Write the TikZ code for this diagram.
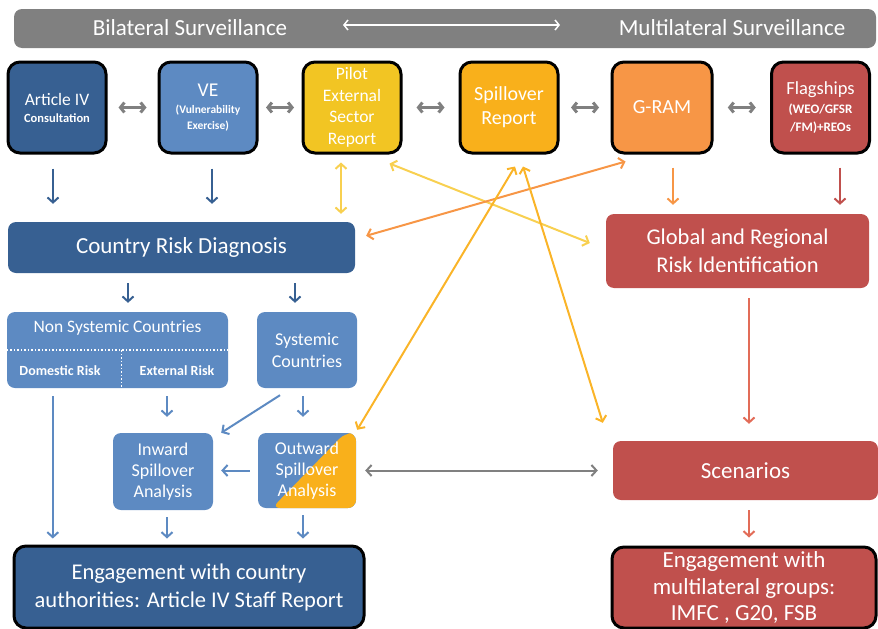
\documentclass[tikz,border=0pt]{standalone}
\usepackage{fontspec}
\setmainfont{Carlito}
\usepackage{tikz}
\usetikzlibrary{
    arrows.meta,
    positioning,
    calc
}

\definecolor{darkblue}{RGB}{55,96,146}
\definecolor{midblue}{RGB}{93,138,194}
\definecolor{pilotyellow}{RGB}{242,197,35}
\definecolor{spillamber}{RGB}{249,176,27}
\definecolor{gramorange}{RGB}{247,150,70}
\definecolor{flagred}{RGB}{192,80,77}
\definecolor{bargray}{RGB}{128,128,128}
\definecolor{lightyellow}{RGB}{248,208,80}
\definecolor{amberline}{RGB}{250,180,40}
\definecolor{salmon}{RGB}{226,108,88}

\begin{document}
\begin{tikzpicture}[
            x=1pt, y=-1pt,
            topbox/.style={draw=black, line width=3pt, rounded corners=12pt, text=white, align=center, inner sep=2pt, minimum width=98pt, minimum height=91pt},
            block/.style={rounded corners=8pt, text=white, align=center, inner sep=2pt},
            arr/.style={-{Straight Barb[length=5pt, width=11pt]}, line width=2pt},
            dblarr/.style={{Straight Barb[length=5pt, width=11pt]}-{Straight Barb[length=5pt, width=11pt]}, line width=2pt},
            grayarr/.style={{Straight Barb[length=4pt, width=10pt]}-{Straight Barb[length=4pt, width=10pt]}, line width=3pt, bargray},
        ]
            \useasboundingbox (0,0) rectangle (878,629);

            % ====== Surveillance bar ======
            \node[fill=bargray, rounded corners=8pt, minimum width=862pt, minimum height=39pt] (bar) at (445,28.5) {};
            \node[text=white, font=\fontsize{23}{26}\selectfont] (bilat) at (190,28) {Bilateral Surveillance};
            \node[text=white, font=\fontsize{23}{26}\selectfont] (multi) at (732,28) {Multilateral Surveillance};
            \coordinate (barleft) at (343,25);
            \coordinate (barright) at (560,25);
            \draw[{Straight Barb[length=4pt, width=10pt]}-{Straight Barb[length=4pt, width=10pt]}, line width=1.5pt, white]
                (barleft) -- (barright);

            % ====== Top row ======
            \node[topbox, fill=darkblue] (art4) at (57,107.5)
                {{\fontsize{17.5}{19}\selectfont Article IV}\\[5pt]{\bfseries\fontsize{12.5}{15}\selectfont Consultation}};
            \node[topbox, fill=midblue] (ve) at (208,107.5)
                {{\fontsize{19.5}{21}\selectfont VE}\\[5pt]{\bfseries\fontsize{11.5}{15}\selectfont (Vulnerability}\\[4pt]{\bfseries\fontsize{11.5}{15}\selectfont Exercise)}};
            \node[topbox, fill=pilotyellow, font=\fontsize{17.5}{21.5}\selectfont] (pilot) at (352,107.5)
                {Pilot\\External\\Sector\\Report};
            \node[topbox, fill=spillamber, font=\fontsize{20}{24}\selectfont] (spill) at (509,107.5)
                {Spillover\\Report};
            \node[topbox, fill=gramorange, font=\fontsize{20}{22}\selectfont, minimum width=100pt] (gram) at (662,107.5)
                {G-RAM};
            \node[topbox, fill=flagred] (flag) at (820.5,107.5)
                {{\fontsize{18.5}{21}\selectfont Flagships}\\[6pt]{\bfseries\fontsize{13}{19}\selectfont (WEO/GFSR}\\[6pt]{\bfseries\fontsize{13}{19}\selectfont /FM)+REOs}};

            \foreach \a/\b in {art4/ve, ve/pilot, pilot/spill, spill/gram, gram/flag}
                \draw[grayarr] ($(\a.east)!.5!(\b.west)+(-14,0)$) -- ($(\a.east)!.5!(\b.west)+(14,0)$);

            % ====== Risk blocks ======
            \node[block, fill=darkblue, minimum width=347pt, minimum height=51pt, font=\fontsize{23}{26}\selectfont]
                (crd) at (181.5,247.5) {Country Risk Diagnosis};
            \node[block, fill=flagred, minimum width=263pt, minimum height=74pt, font=\fontsize{22.5}{28}\selectfont]
                (grri) at (737.5,251) {Global and Regional\\Risk Identification};

            \node[block, fill=midblue, minimum width=221pt, minimum height=76pt] (nonsys) at (117.5,350) {};
            \draw[white, dotted, line width=1.5pt] (nonsys.west) -- (nonsys.east);
            \draw[white, dotted, line width=1.5pt] ($(nonsys.center)+(4,0)$) -- ($(nonsys.south)+(4,0)$);
            \node[text=white, font=\fontsize{17.5}{20}\selectfont] (nonsystitle) at (117.5,328) {Non Systemic Countries};
            \node[text=white, font=\bfseries\fontsize{14}{16}\selectfont] (domrisk) at (60,371) {Domestic Risk};
            \node[text=white, font=\bfseries\fontsize{14}{16}\selectfont] (extrisk) at (177,371) {External Risk};

            \node[block, fill=midblue, minimum width=100pt, minimum height=76pt, font=\fontsize{18}{22}\selectfont]
                (sys) at (307,350) {Systemic\\Countries};

            \node[block, fill=midblue, minimum width=100pt, minimum height=77pt, font=\fontsize{18}{21}\selectfont]
                (inward) at (163,471.5) {Inward\\Spillover\\Analysis};
            \node[
                block,
                fill=midblue,
                minimum width=98pt,
                minimum height=75pt,
                font=\fontsize{18}{21}\selectfont,
                path picture={
                    \fill[spillamber] ($(path picture bounding box.south west)+(14,0)$)
                        -- ($(path picture bounding box.north east)+(-11,0)$)
                        -- (path picture bounding box.north east)
                        -- (path picture bounding box.south east) -- cycle;
                }
            ] (outward) at (307,470.5) {Outward\\Spillover\\Analysis};

            \node[block, fill=flagred, minimum width=265pt, minimum height=59pt, font=\fontsize{23}{26}\selectfont]
                (scen) at (745.5,470.5) {Scenarios};

            % ====== Engagement ======
            \node[block, draw=black, line width=3pt, rounded corners=12pt, fill=darkblue, minimum width=350pt, minimum height=82pt, font=\fontsize{22.5}{28}\selectfont]
                (engage) at (189,587) {Engagement with country\\authorities: Article IV Staff Report};
            \node[block, draw=black, line width=3pt, rounded corners=12pt, fill=flagred, minimum width=264pt, minimum height=81pt, font=\fontsize{23}{26.5}\selectfont]
                (engmulti) at (744,587.5) {Engagement with\\multilateral groups:\\IMFC , G20, FSB};

            % ====== Arrows ======
            \draw[arr, darkblue, shorten <=14pt, shorten >=18pt]
                ($(art4.south)+(-4,0)$) -- ($(art4.south |- crd.north)+(-4,0)$);
            \draw[arr, darkblue, shorten <=14pt, shorten >=18pt]
                ($(ve.south)+(4,0)$) -- ($(ve.south |- crd.north)+(4,0)$);
            \draw[dblarr, lightyellow, shorten <=8pt, shorten >=8pt]
                ($(pilot.south)+(-11,0)$) -- ($(pilot.south |- crd.north)+(-11,0)$);
            \draw[arr, gramorange, shorten <=13pt, shorten >=9pt]
                ($(gram.south)+(11,0)$) -- ($(gram.south |- grri.north)+(11,0)$);
            \draw[arr, flagred, shorten <=13pt, shorten >=9pt]
                ($(flag.south)+(19.5,0)$) -- ($(flag.south |- grri.north)+(19.5,0)$);

            \draw[arr, darkblue, shorten <=10pt, shorten >=9pt]
                (crd.south -| nonsys.south) ++(10.5,0) -- ($(nonsys.north)+(10.5,0)$);
            \draw[arr, darkblue, shorten <=10pt, shorten >=9pt]
                ($(crd.south -| sys.south)+(-12,0)$) -- ($(sys.north)+(-12,0)$);

            \draw[arr, midblue, shorten <=8pt, shorten >=16pt]
                (extrisk.south |- nonsys.south) ++(-10,0) -- ($(inward.north)+(4,0)$);
            \draw[arr, midblue, shorten <=8pt, shorten >=16pt]
                ($(sys.south)+(-4,0)$) -- ($(outward.north)+(-4,0)$);
            \draw[arr, midblue]
                ($(sys.south)+(-27,7)$) -- ($(inward.north east)+(8,0)$);
            \draw[arr, midblue, shorten <=8pt, shorten >=8pt]
                (outward.west) -- (outward.west -| inward.east);
            \draw[arr, midblue, shorten <=8pt, shorten >=6pt]
                ($(nonsys.south west)+(46,0)$) -- ($(nonsys.south west |- engage.north)+(46,0)$);
            \draw[arr, midblue, shorten <=7pt, shorten >=6pt]
                ($(inward.south)+(4,0)$) -- ($(inward.south |- engage.north)+(4,0)$);
            \draw[arr, midblue, shorten <=7pt, shorten >=6pt]
                ($(outward.south)+(-4,0)$) -- ($(outward.south |- engage.north)+(-4,0)$);

            \draw[dblarr, bargray, shorten <=9pt, shorten >=15pt]
                (outward.east) -- (outward.east -| scen.west);
            \draw[arr, salmon, shorten <=10pt, shorten >=17pt]
                ($(grri.south)+(11.5,0)$) -- ($(grri.south |- scen.north)+(11.5,0)$);
            \draw[arr, salmon, shorten <=10pt, shorten >=8pt]
                ($(scen.south)+(3.5,0)$) -- ($(scen.south |- engmulti.north)+(3.5,0)$);

            % ====== Crossing links ======
            \draw[dblarr, lightyellow]
                ($(pilot.south east)+(-13,9)$) -- ($(grri.west)+(-16,-8)$);
            \draw[dblarr, gramorange]
                ($(crd.north east)+(11,14)$) -- ($(gram.south west)+(15,7)$);
            \draw[dblarr, amberline]
                ($(spill.south)+(6,12)$) -- ($(outward.north east)+(1,-3)$);
            \draw[dblarr, amberline]
                ($(spill.south)+(14,12)$) -- ($(scen.north west)+(-10,-18)$);
        \end{tikzpicture}
\end{document}
